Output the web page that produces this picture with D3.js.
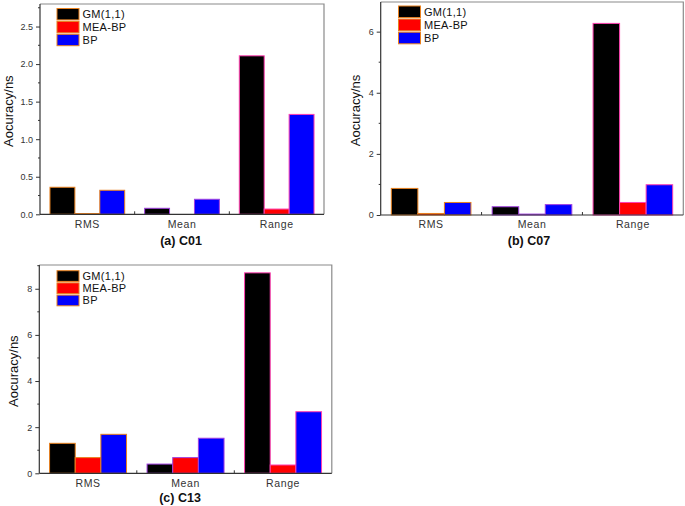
<!DOCTYPE html>
<html>
<head>
<meta charset="utf-8">
<script src="https://cdn.jsdelivr.net/npm/d3@7"></script>
<style>
  html, body { margin: 0; padding: 0; background: #fff; }
  svg { display: block; font-family: "Liberation Sans", Arial, sans-serif; }
</style>
</head>
<body>
<svg id="chart" width="685" height="506"></svg>
<script>
// ---- data ----
const categories = ["RMS", "Mean", "Range"];
const seriesNames = ["GM(1,1)", "MEA-BP", "BP"];
const seriesColors = ["#000000", "#ff0000", "#0000ff"];
const groupOutline = ["#e8801e", "#a040e0", "#ff40b0"];

const c01_gm  = [0.36, 0.08, 2.11];
const c01_mea = [0.01, 0.00, 0.07];
const c01_bp  = [0.32, 0.20, 1.33];
const c01_ticks = [0, 0.5, 1.0, 1.5, 2.0, 2.5];

const c07_gm  = [0.87, 0.27, 6.27];
const c07_mea = [0.05, 0.03, 0.41];
const c07_bp  = [0.41, 0.34, 0.99];
const c07_ticks = [0, 2, 4, 6];

const c13_gm  = [1.30, 0.40, 8.69];
const c13_mea = [0.68, 0.68, 0.36];
const c13_bp  = [1.69, 1.52, 2.67];
const c13_ticks = [0, 2, 4, 6, 8];

const titles = ["(a) C01", "(b) C07", "(c) C13"];
const yLabel = "Aocuracy/ns";

// ---- layout ----
const panels = [
  { title: titles[0], series: [c01_gm, c01_mea, c01_bp], ticks: c01_ticks, fmt: d3.format(".1f"), ymax: 2.8,
    box: { l: 40, r: 324, t: 4, b: 214.3 }, titleXY: [181, 245], yLabelX: 12.5,
    legend: { x: 57, y: 8.5, dy: 12.9 } },
  { title: titles[1], series: [c07_gm, c07_mea, c07_bp], ticks: c07_ticks, fmt: d3.format("d"), ymax: 6.97,
    box: { l: 380.7, r: 683.3, t: 2, b: 215 }, titleXY: [529, 245], yLabelX: 359.5,
    legend: { x: 398.5, y: 6, dy: 13.1 } },
  { title: titles[2], series: [c13_gm, c13_mea, c13_bp], ticks: c13_ticks, fmt: d3.format("d"), ymax: 9.03,
    box: { l: 39.3, r: 331.8, t: 265, b: 473.3 }, titleXY: [180, 501.5], yLabelX: 17.5,
    legend: { x: 57, y: 270.7, dy: 12.2 } }
];

const svg = d3.select("#chart");

panels.forEach(p => {
  const g = svg.append("g");
  const { l, r, t, b } = p.box;

  const x = d3.scaleBand().domain(categories).range([l, r]).padding(0);
  const xs = d3.scaleBand().domain(seriesNames).range([0, x.bandwidth()]).paddingInner(0).paddingOuter(0.4);
  const y = d3.scaleLinear().domain([0, p.ymax]).range([b, t]);

  // frame top & right (grey)
  g.append("path")
    .attr("d", `M${l},${t}H${r}V${b}`)
    .attr("fill", "none").attr("stroke", "#8a8a8a").attr("stroke-width", 1.2);

  // bars
  categories.forEach((cat, ci) => {
    p.series.forEach((vals, si) => {
      const v = vals[ci];
      if (v <= 0) return;
      g.append("rect")
        .attr("x", x(cat) + xs(seriesNames[si]))
        .attr("y", y(v))
        .attr("width", xs.bandwidth())
        .attr("height", b - y(v))
        .attr("fill", seriesColors[si])
        .attr("stroke", groupOutline[ci])
        .attr("stroke-width", 1);
    });
  });

  // y axis
  const yAxis = d3.axisLeft(y).tickValues(p.ticks).tickFormat(p.fmt).tickSize(4).tickSizeOuter(0).tickPadding(3);
  const ya = g.append("g").attr("transform", `translate(${l},0)`).call(yAxis);
  ya.select(".domain").attr("stroke", "#333").attr("stroke-width", 1.2).attr("d", `M0,${t}V${b}`);
  ya.selectAll(".tick line").attr("stroke", "#333");
  ya.selectAll(".tick text").attr("fill", "#333").style("font-size", "9px").style("font-family", "Liberation Sans, Arial, sans-serif");
  // minor ticks
  const step = p.ticks[1] - p.ticks[0];
  const minors = p.ticks.map(v => v + step / 2).filter(v => v < p.ymax);
  g.selectAll(null).data(minors).enter().append("line")
    .attr("x1", l - 2).attr("x2", l)
    .attr("y1", d => y(d)).attr("y2", d => y(d))
    .attr("stroke", "#333");

  // x axis
  const xAxis = d3.axisBottom(x).tickSize(0).tickPadding(6);
  const xa = g.append("g").attr("transform", `translate(0,${b})`).call(xAxis);
  xa.select(".domain").attr("stroke", "#333").attr("stroke-width", 1.2).attr("d", `M${l},0H${r}`);
  xa.selectAll(".tick text").attr("fill", "#333").style("font-size", "10.5px")
    .style("letter-spacing", "0.6px").style("font-family", "Liberation Sans, Arial, sans-serif");
  // small separator ticks between groups
  g.selectAll(null).data(categories.slice(1)).enter().append("line")
    .attr("x1", d => x(d)).attr("x2", d => x(d))
    .attr("y1", b).attr("y2", b - 3)
    .attr("stroke", "#333");

  // y label
  g.append("text")
    .attr("transform", `translate(${p.yLabelX},${(t + b) / 2 + 2}) rotate(-90)`)
    .attr("text-anchor", "middle")
    .style("font-size", "13px")
    .attr("fill", "#111")
    .text(yLabel);

  // title
  g.append("text")
    .attr("x", p.titleXY[0]).attr("y", p.titleXY[1])
    .attr("text-anchor", "middle")
    .style("font-size", "12.5px").style("font-weight", "bold")
    .attr("fill", "#111")
    .text(p.title);

  // legend
  const lg = g.append("g");
  seriesNames.forEach((name, i) => {
    const yy = p.legend.y + i * p.legend.dy;
    lg.append("rect")
      .attr("x", p.legend.x).attr("y", yy)
      .attr("width", 22).attr("height", p.legend.dy - 1.5)
      .attr("fill", seriesColors[i])
      .attr("stroke", "#e8801e").attr("stroke-width", 1);
    lg.append("text")
      .attr("x", p.legend.x + 25.5).attr("y", yy + p.legend.dy / 2 + 3)
      .style("font-size", "11px")
      .style("letter-spacing", "0.3px")
      .attr("fill", "#111")
      .text(name);
  });
});
</script>
</body>
</html>
